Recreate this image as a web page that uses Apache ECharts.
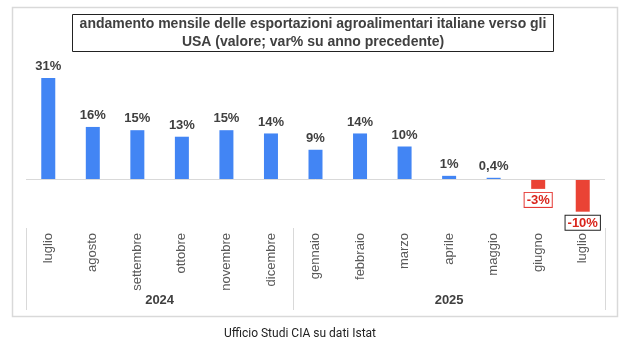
<!DOCTYPE html>
<html>
<head>
<meta charset="utf-8">
<script src="https://cdn.jsdelivr.net/npm/echarts@6/dist/echarts.min.js"></script>
<style>
html,body{margin:0;padding:0;background:#fff;}
#c{width:626px;height:345px;}
</style>
</head>
<body>
<div id="c"></div>
<script>
// ---- data ----
const months = ['luglio','agosto','settembre','ottobre','novembre','dicembre','gennaio','febbraio','marzo','aprile','maggio','giugno','luglio'];
const values = [31, 16, 15, 13, 15, 14, 9, 14, 10, 1, 0.4, -3, -10];
const years = ['2024', '2025'];
const yearSpans = [6, 7]; // number of months in each year group
const titleText = 'andamento mensile delle esportazioni agroalimentari italiane verso gli\nUSA (valore; var% su anno precedente)';
const sourceText = 'Ufficio Studi CIA su dati Istat';

// ---- build year axis (half-category points, boundaryGap false) ----
const yearAxisData = [];
const yearLabelIdx = {};
const yearTickIdx = {0: true};
let pos = 0;
years.forEach((y, k) => {
  const span = yearSpans[k] * 2;
  yearLabelIdx[pos + span / 2] = y;
  pos += span;
  yearTickIdx[pos] = true;
});
for (let i = 0; i <= pos; i++) yearAxisData.push(yearLabelIdx[i] || '');

const BLUE = '#4285f4';
const RED = '#ea4335';
const fmt = v => String(v).replace('.', ',') + '%';

const seriesData = values.map((v, i) => {
  const item = { value: v, itemStyle: { color: v >= 0 ? BLUE : RED } };
  if (v < 0) {
    item.label = {
      position: 'bottom',
      distance: 4,
      color: '#d9251c',
      borderColor: i === values.length - 1 ? '#222' : '#e53935',
      borderWidth: 1,
      padding: [1, 2, 0, 2],
      backgroundColor: '#fff'
    };
  }
  return item;
});

const chart = echarts.init(document.getElementById('c'), null, { renderer: 'canvas' });
chart.setOption({
  animation: false,
  backgroundColor: '#fff',
  graphic: [{
    type: 'rect', z: -10, silent: true,
    shape: { x: 12.5, y: 7.5, width: 605, height: 309 },
    style: { fill: null, stroke: '#d9d9d9', lineWidth: 1.5 }
  }],
  title: [{
    text: titleText,
    left: 'center',
    top: 14,
    padding: [1, 7, 1, 7],
    borderWidth: 1,
    borderColor: '#222',
    textStyle: { fontFamily: 'Liberation Sans', fontSize: 14, fontWeight: 'bold', color: '#404040', lineHeight: 18 }
  }, {
    text: sourceText,
    left: 300,
    top: 328,
    textAlign: 'center',
    padding: 0,
    textStyle: { fontFamily: 'Roboto', fontSize: 12, fontWeight: 'normal', color: '#222' }
  }],
  grid: { left: 26, right: 21, top: 65, bottom: 117 },
  xAxis: [{
    type: 'category',
    data: months,
    position: 'bottom',
    axisLine: { show: false, onZero: false },
    axisTick: { show: false },
    axisLabel: { rotate: 90, margin: 5, interval: 0, fontFamily: 'Liberation Sans', fontSize: 13, color: '#595959' }
  }, {
    type: 'category',
    data: yearAxisData,
    boundaryGap: false,
    position: 'bottom',
    axisLine: { show: false, onZero: false },
    axisTick: { show: true, length: 82, interval: (i) => !!yearTickIdx[i], lineStyle: { color: '#d9d9d9', width: 1 } },
    axisLabel: { interval: (i, v) => v !== '', margin: 66, fontFamily: 'Liberation Sans', fontSize: 13, fontWeight: 'bold', color: '#404040' }
  }],
  yAxis: {
    type: 'value', min: -15, max: 35, show: false, splitLine: { show: false }
  },
  series: [{
    type: 'bar',
    xAxisIndex: 0,
    barWidth: 14,
    data: seriesData,
    label: {
      show: true,
      position: 'top',
      distance: 5,
      formatter: p => fmt(p.value),
      fontFamily: 'Liberation Sans',
      fontSize: 13,
      fontWeight: 'bold',
      color: '#404040'
    },
    markLine: {
      silent: true,
      symbol: 'none',
      label: { show: false },
      lineStyle: { color: '#d9d9d9', width: 1, type: 'solid' },
      data: [{ yAxis: 0 }]
    },
    z: 3
  }]
});
</script>
</body>
</html>
